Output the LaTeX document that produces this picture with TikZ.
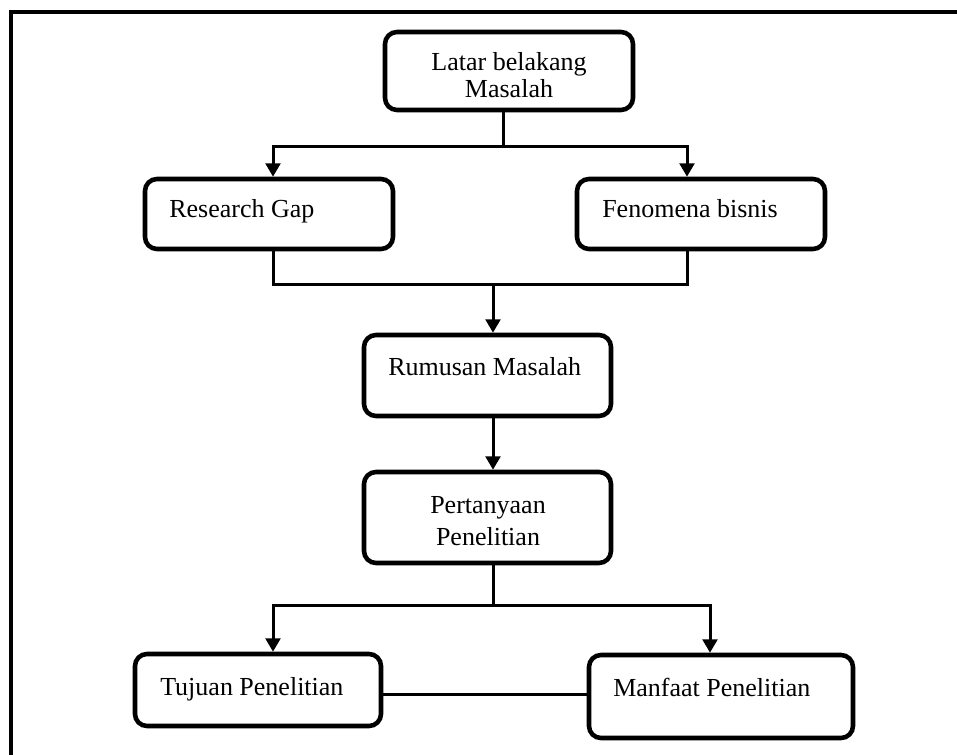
\documentclass[tikz,border=0pt]{standalone}
\usepackage{fontspec}
\setmainfont{Liberation Serif}
\usetikzlibrary{arrows.meta, positioning}
\tikzset{
	box/.style={rectangle, draw, line width=3.4pt, rounded corners=9pt, inner sep=0pt},
	txt/.style={font=\fontsize{19.5}{20.5}\selectfont, inner sep=0pt},
	link/.style={draw, line width=2.25pt},
	flow/.style={link, -{Triangle[length=10pt, width=11pt]}},
	frame/.style={draw, line width=3pt}
}

\begin{document}
\begin{tikzpicture}[x=0.75pt, y=-0.75pt]
	\useasboundingbox (0,0) rectangle (957,755);
	% outer frame
	\draw[frame] (11,12) rectangle (975,775);
	% the boxes
	\node[box, minimum width=186pt, minimum height=58.5pt] (latar) at (509,71) {};
	\node[box, minimum width=186pt, minimum height=52.5pt] (gap) at (269,214) {};
	\node[box, minimum width=186pt, minimum height=52.5pt] (fen) at (701,214) {};
	\node[box, minimum width=185.25pt, minimum height=60.75pt] (rum) at (487.5,375.5) {};
	\node[box, minimum width=185.25pt, minimum height=68.25pt] (tanya) at (487.5,517.5) {};
	\node[box, minimum width=184.5pt, minimum height=54pt] (tuj) at (258,690) {};
	\node[box, minimum width=198pt, minimum height=62.25pt] (man) at (721,696.5) {};
	% the texts
	\node[txt, align=center] (latar-t) at (509,75) {Latar belakang\\Masalah};
	\node[txt, anchor=base west] (gap-t) at (169,218) {Research Gap};
	\node[txt, anchor=base west] (fen-t) at (602,218) {Fenomena bisnis};
	\node[txt, anchor=base west] (rum-t) at (388,376) {Rumusan Masalah};
	\node[txt, align=center] (tanya-t) at (488,521) {Pertanyaan\\[3pt]Penelitian};
	\node[txt, anchor=base west] (tuj-t) at (160,695) {Tujuan Penelitian};
	\node[txt, anchor=base west] (man-t) at (613,696) {Manfaat Penelitian};
	% junctions
	\coordinate (split1) at (503,147);
	\coordinate (left1) at (273,147);
	\coordinate (right1) at (687,147);
	\coordinate (merge) at (493,285);
	\coordinate (split2) at (493,605);
	\coordinate (right2) at (710,605);
	\coordinate (bridge) at (485,694);
	% connectors
	\draw[link] (latar.south -| split1) -- (split1);
	\draw[flow] (split1) -| (gap.north -| left1);
	\draw[flow] (split1) -| (fen.north -| right1);
	\draw[link] (gap.south -| left1) |- (merge) -| (fen.south -| right1);
	\draw[flow] (merge) -- (rum.north -| merge);
	\draw[flow] (rum.south -| merge) -- (tanya.north -| merge);
	\draw[link] (tanya.south -| split2) -- (split2);
	\draw[flow] (split2) -| (tuj.north -| left1);
	\draw[flow] (split2) -| (man.north -| right2);
	\draw[link] (tuj.east |- bridge) -- (man.west |- bridge);
\end{tikzpicture}
\end{document}
